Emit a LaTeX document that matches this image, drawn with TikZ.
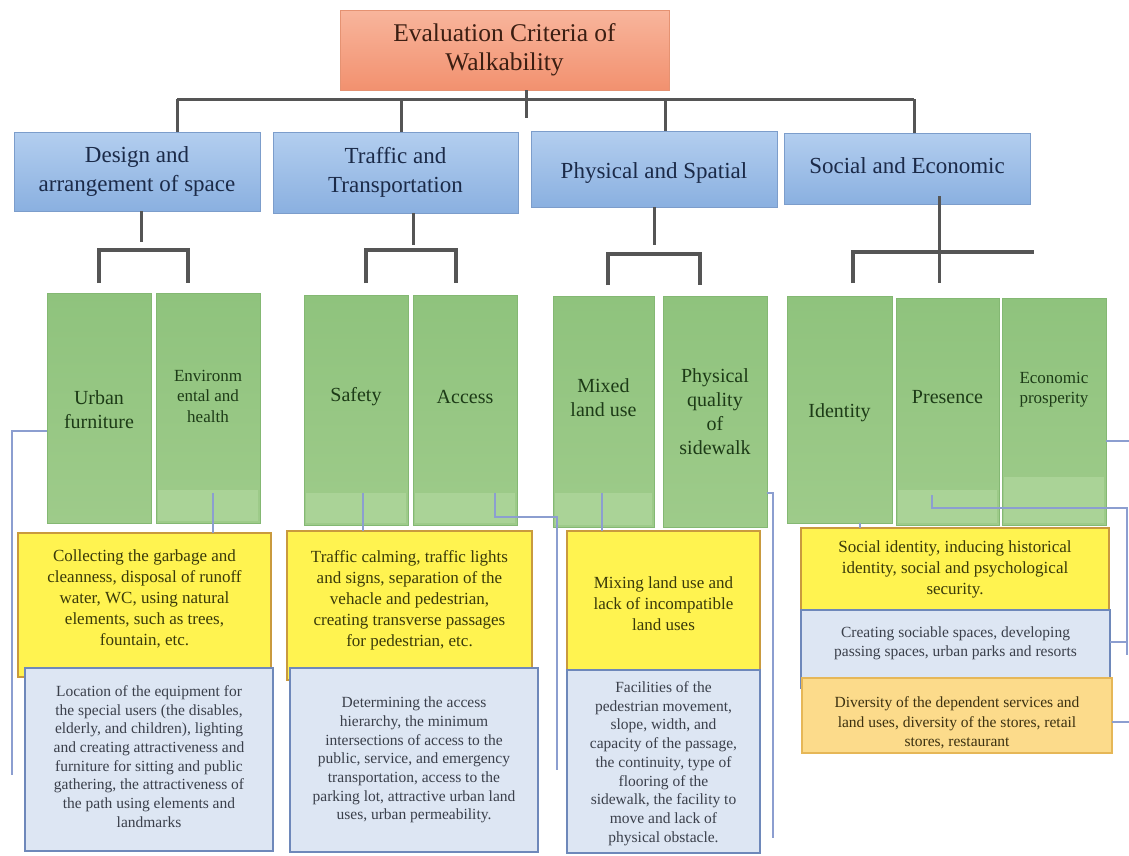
\documentclass[tikz,border=0pt]{standalone}
\usepackage{fontspec}
\setmainfont{Liberation Serif}
\usetikzlibrary{fit}
\definecolor{cgray}{HTML}{555555}
\definecolor{lineblue}{HTML}{8C9ED0}
\definecolor{toptop}{HTML}{F8B59C}
\definecolor{topbot}{HTML}{F2916F}
\definecolor{topbd}{HTML}{E59272}
\definecolor{l1top}{HTML}{B3CEEF}
\definecolor{l1bot}{HTML}{8AB0E0}
\definecolor{l1bd}{HTML}{7C9DCB}
\definecolor{gtop}{HTML}{8FC37D}
\definecolor{gbot}{HTML}{9ECB8A}
\definecolor{gbd}{HTML}{84B873}
\definecolor{gband}{HTML}{AAD397}
\definecolor{yfill}{HTML}{FFF350}
\definecolor{ybd}{HTML}{C99A3E}
\definecolor{bfill}{HTML}{DDE6F3}
\definecolor{bbd}{HTML}{6E88BA}
\definecolor{ofill}{HTML}{FCDB8B}
\definecolor{obd}{HTML}{E6B757}
\definecolor{ctitle}{HTML}{3B1E12}
\definecolor{cl1}{HTML}{1B2A48}
\definecolor{cgreen}{HTML}{1D3B17}
\definecolor{cyel}{HTML}{3A3A0A}
\definecolor{cblue}{HTML}{3A3F4A}
\definecolor{corange}{HTML}{3B3010}
\tikzset{
  conn/.style={draw=cgray, line width=3pt},
  brk/.style={draw=cgray, line width=3.5pt},
  thinln/.style={draw=lineblue, line width=1.4pt},
  boxbase/.style={rectangle, inner sep=0pt, outer sep=0pt},
  topbox/.style={boxbase, draw=topbd, line width=0.8pt, top color=toptop, bottom color=topbot},
  lonebox/.style={boxbase, draw=l1bd, line width=0.8pt, top color=l1top, bottom color=l1bot},
  gbox/.style={boxbase, draw=gbd, line width=0.8pt, top color=gtop, bottom color=gbot},
  ybox/.style={boxbase, draw=ybd, line width=1.2pt, fill=yfill},
  bbox/.style={boxbase, draw=bbd, line width=1.2pt, fill=bfill},
  obox/.style={boxbase, draw=obd, line width=1.2pt, fill=ofill},
  ttitle/.style={align=center, text=ctitle, font=\fontsize{25.5}{29}\selectfont},
  tlone/.style={align=center, text=cl1, font=\fontsize{23}{28.5}\selectfont},
  tgreen/.style={align=center, text=cgreen, font=\fontsize{20}{24}\selectfont},
  tgsmall/.style={align=center, text=cgreen, font=\fontsize{17}{20.5}\selectfont},
  tyel/.style={align=center, text=cyel, font=\fontsize{17}{21}\selectfont},
  tblue/.style={align=center, text=cblue, font=\fontsize{15.5}{18.7}\selectfont},
  torange/.style={align=center, text=corange, font=\fontsize{15.5}{19.5}\selectfont},
}
\begin{document}
\begin{tikzpicture}[x=1pt,y=-1pt]
\fill[white] (0,0) rectangle (1129,855);
\useasboundingbox (0,0) rectangle (1129,855);

% level 0 and level 1 boxes
\node[topbox, fit={(340,10) (669,90)}] (top) {};
\node[lonebox, fit={(14,132) (260,211)}] (design) {};
\node[lonebox, fit={(273,132) (518,213)}] (traffic) {};
\node[lonebox, fit={(531,131) (777,207)}] (physical) {};
\node[lonebox, fit={(784,133) (1030,204)}] (social) {};

% thick connectors
\coordinate (tstub) at (526,118);
\coordinate (barl) at (177,99);
\coordinate (barr) at (914,99);
\draw[conn] (top.south -| tstub) -- (tstub);
\draw[conn] (barl) -- (barr);
\draw[conn] (barl) -- (barl |- design.north);
\draw[conn] (401,99) -- (401,99 |- traffic.north);
\draw[conn] (665,99) -- (665,99 |- physical.north);
\draw[conn] (barr) -- (barr |- social.north);

\coordinate (dstub) at (141,242);
\draw[conn] (design.south -| dstub) -- (dstub);
\coordinate (db1) at (99,283);
\coordinate (db2) at (188,283);
\draw[brk] (db1) |- (188,250) -- (db2);

\coordinate (tst) at (413,245);
\draw[conn] (traffic.south -| tst) -- (tst);
\coordinate (tb1) at (366,283);
\coordinate (tb2) at (456,283);
\draw[brk] (tb1) |- (456,250) -- (tb2);

\coordinate (pst) at (654,245);
\draw[conn] (physical.south -| pst) -- (pst);
\coordinate (pb1) at (608,285);
\coordinate (pb2) at (700,285);
\draw[brk] (pb1) |- (700,254) -- (pb2);

\coordinate (ss1) at (939,196);
\coordinate (ss2) at (939,283);
\draw[conn] (ss1) -- (ss2);
\coordinate (sb1) at (853,283);
\coordinate (sbr) at (1034,252);
\draw[brk] (sb1) |- (sbr);

% green boxes
\node[gbox, fit={(47,293) (151,523)}] (uf) {};
\node[gbox, fit={(156,293) (260,523)}] (env) {};
\node[gbox, fit={(304,295) (408,525)}] (safety) {};
\node[gbox, fit={(413,295) (517,525)}] (access) {};
\node[gbox, fit={(553,296) (654,527)}] (mixed) {};
\node[gbox, fit={(663,296) (767,527)}] (pq) {};
\node[gbox, fit={(787,296) (892,523)}] (identity) {};
\node[gbox, fit={(896,298) (999,525)}] (presence) {};
\node[gbox, fit={(1002,298) (1106,525)}] (economic) {};

\fill[gband] (158,490) rectangle (258,521);
\fill[gband] (306,493) rectangle (406,523);
\fill[gband] (415,493) rectangle (515,523);
\fill[gband] (555,493) rectangle (652,525);
\fill[gband] (898,490) rectangle (997,523);
\fill[gband] (1004,477) rectangle (1104,523);

% content boxes
\node[ybox, fit={(18,533) (271,677)}] (dy) {};
\node[bbox, fit={(25,668) (273,851)}] (db) {};
\node[ybox, fit={(287,531) (532,680)}] (ty) {};
\node[bbox, fit={(290,668) (538,852)}] (tb) {};
\node[ybox, fit={(567,531) (760,670)}] (py) {};
\node[bbox, fit={(567,670) (760,853)}] (pb) {};
\node[ybox, fit={(801,528) (1109,615)}] (sy) {};
\node[bbox, fit={(801,610) (1110,688)}] (sbx) {};
\node[obox, fit={(802,678) (1112,753)}] (so) {};

% thin connectors
\coordinate (ufa) at (12,431);
\coordinate (ufb) at (12,775);
\draw[thinln] (uf.west |- ufa) -- (ufa) -- (ufb);
\coordinate (ea) at (213,493);
\draw[thinln] (ea) -- (ea |- dy.north);
\coordinate (sa) at (363,493);
\draw[thinln] (sa) -- (sa |- ty.north);
\coordinate (aa) at (495,493);
\coordinate (ab) at (557,517);
\coordinate (ac) at (557,770);
\draw[thinln] (aa) |- (ab) -- (ac);
\coordinate (ma) at (602,493);
\draw[thinln] (ma) -- (ma |- py.north);
\coordinate (qa) at (773,493);
\coordinate (qb) at (773,838);
\draw[thinln] (pq.east |- qa) -- (qa) -- (qb);
\coordinate (ia) at (860,523);
\draw[thinln] (identity.south -| ia) -- (ia |- sy.north);
\coordinate (pra) at (932,495);
\coordinate (prb) at (1127,508);
\coordinate (prc) at (1127,655);
\draw[thinln] (pra) |- (prb) -- (prc);
\coordinate (eca) at (1129,441);
\draw[thinln] (economic.east |- eca) -- (eca);
\coordinate (bsa) at (1127,642);
\draw[thinln] (sbx.east |- bsa) -- (bsa);
\coordinate (osa) at (1129,722);
\draw[thinln] (so.east |- osa) -- (osa);

% texts
\node[ttitle] (topT) at (top.center) {Evaluation Criteria of\\Walkability};
\node[tlone] (designT) at (design.center) {Design and\\arrangement of space};
\node[tlone] (trafficT) at (traffic.center) {Traffic and\\Transportation};
\node[tlone, yshift=-4pt] (physicalT) at (physical.center) {Physical and Spatial};
\node[tlone, yshift=2.5pt] (socialT) at (social.center) {Social and Economic};

\node[tgreen, yshift=-2pt] (ufT) at (uf.center) {Urban\\furniture};
\node[tgsmall, yshift=12pt] (envT) at (env.center) {Environm\\ental and\\health};
\node[tgreen, yshift=13pt] (safetyT) at (safety.center) {Safety};
\node[tgreen, yshift=13pt] (accessT) at (access.center) {Access};
\node[tgreen, yshift=14pt] (mixedT) at (mixed.center) {Mixed\\land use};
\node[tgreen] (pqT) at (pq.center) {Physical\\quality\\of\\sidewalk};
\node[tgreen, yshift=-3.5pt] (identityT) at (identity.center) {Identity};
\node[tgreen, yshift=14.5pt] (presenceT) at (presence.center) {Presence};
\node[tgsmall, yshift=22pt] (economicT) at (economic.center) {Economic\\prosperity};

\node[tyel, yshift=6.5pt] (dyT) at (dy.center) {Collecting the garbage and\\cleanness, disposal of runoff\\water, WC, using natural\\elements, such as trees,\\fountain, etc.};
\node[tblue, yshift=3pt] (dbT) at (db.center) {Location of the equipment for\\the special users (the disables,\\elderly, and children), lighting\\and creating attractiveness and\\furniture for sitting and public\\gathering, the attractiveness of\\the path using elements and\\landmarks};
\node[tyel, yshift=5pt] (tyT) at (ty.center) {Traffic calming, traffic lights\\and signs, separation of the\\vehacle and pedestrian,\\creating transverse passages\\for pedestrian, etc.};
\node[tblue] (tbT) at (tb.center) {Determining the access\\hierarchy, the minimum\\intersections of access to the\\public, service, and emergency\\transportation, access to the\\parking lot, attractive urban land\\uses, urban permeability.};
\node[tyel, yshift=-3pt] (pyT) at (py.center) {Mixing land use and\\lack of incompatible\\land uses};
\node[tblue, yshift=-2pt] (pbT) at (pb.center) {Facilities of the\\pedestrian movement,\\slope, width, and\\capacity of the passage,\\the continuity, type of\\flooring of the\\sidewalk, the facility to\\move and lack of\\physical obstacle.};
\node[tyel, yshift=2pt] (syT) at (sy.center) {Social identity, inducing historical\\identity, social and psychological\\security.};
\node[tblue, yshift=6pt] (sbT) at (sbx.center) {Creating sociable spaces, developing\\passing spaces, urban parks and resorts};
\node[torange, yshift=-7.5pt] (soT) at (so.center) {Diversity of the dependent services and\\land uses, diversity of the stores, retail\\stores, restaurant};
\end{tikzpicture}
\end{document}
